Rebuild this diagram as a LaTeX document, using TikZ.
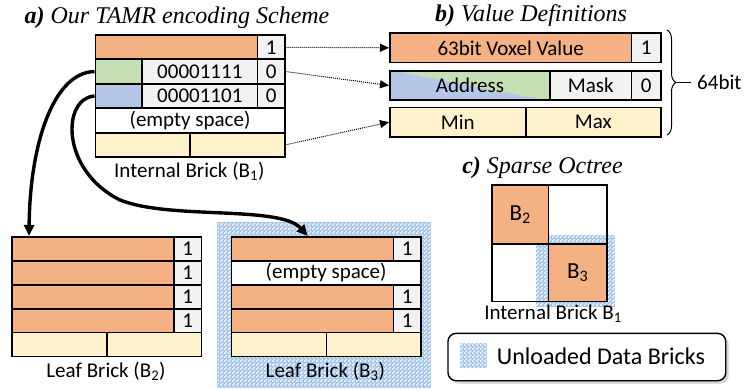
\documentclass[tikz,border=0pt]{standalone}
\usepackage{fontspec}
\setmainfont{Carlito}
\newfontfamily\titlefont{Liberation Serif}
\usetikzlibrary{patterns,shadows,decorations.pathreplacing,arrows.meta,calc}

\definecolor{cOrange}{RGB}{244,177,131}
\definecolor{cGreen}{RGB}{197,224,180}
\definecolor{cBlue}{RGB}{180,199,231}
\definecolor{cGray}{RGB}{242,242,242}
\definecolor{cYellow}{RGB}{255,242,204}
\definecolor{hatchbg}{RGB}{165,198,236}
\definecolor{hatchfg}{RGB}{245,249,254}

% fine checker used for unloaded bricks
\pgfdeclarepatternformonly{finechecker}{\pgfpointorigin}{\pgfqpoint{4pt}{4pt}}{\pgfqpoint{4pt}{4pt}}{%
  \pgfpathrectangle{\pgfpointorigin}{\pgfqpoint{2pt}{2pt}}%
  \pgfpathrectangle{\pgfqpoint{2pt}{2pt}}{\pgfqpoint{2pt}{2pt}}%
  \pgfusepath{fill}}

\tikzset{
  cell/.style={draw=black, line width=1.6pt, inner sep=0pt, anchor=north west,
    font=\fontsize{21}{23}\selectfont},
  lbl/.style={inner sep=0pt, font=\fontsize{21}{23}\selectfont},
  ttl/.style={inner sep=0pt, font=\titlefont\fontsize{24}{26}\selectfont},
  unloaded/.style={fill=hatchbg, postaction={pattern=finechecker, pattern color=hatchfg}},
  dotarrow/.style={densely dotted, line width=1pt, -{Triangle[length=9pt,width=8pt]}},
  fatarrow/.style={line width=3.4pt, -{Triangle[length=11pt,width=10pt]}},
}

% \cellat{name}{fill}{x0}{y0}{x1}{y1}{text}
\newcommand\cellat[7]{%
  \node[cell, fill=#2, minimum width={(#5)-(#3)}, minimum height={(#6)-(#4)}]
    (#1) at (#3,#4) {#7};}

\begin{document}
\begin{tikzpicture}[x=1pt, y=-1pt]
\useasboundingbox (0,0) rectangle (747,390);

% ---------- a) internal brick B1 ----------
\node[ttl] (ta) at (177,18) {\textbf{\textit{a)}} \textit{Our TAMR encoding Scheme}};
\cellat{i1v}{cOrange}{94.5}{34.5}{256.7}{58.5}{}
\cellat{i1f}{cGray}{256.7}{34.5}{284}{58.5}{1}
\cellat{i2a}{cGreen}{94.5}{58.5}{141.3}{83}{}
\cellat{i2m}{cGray}{141.3}{58.5}{256.7}{83}{00001111}
\cellat{i2f}{cGray}{256.7}{58.5}{284}{83}{0}
\cellat{i3a}{cBlue}{94.5}{83}{141.3}{107.5}{}
\cellat{i3m}{cGray}{141.3}{83}{256.7}{107.5}{00001101}
\cellat{i3f}{cGray}{256.7}{83}{284}{107.5}{0}
\cellat{i4}{white}{94.5}{107.5}{284}{132}{(empty space)}
\cellat{i5a}{cYellow}{94.5}{132}{189.3}{156}{}
\cellat{i5b}{cYellow}{189.3}{132}{284}{156}{}
\node[lbl] (ilbl) at (189.3,171) {Internal Brick (B\textsubscript{1})};

% ---------- leaf brick B2 ----------
\cellat{l1v}{cOrange}{11}{236}{173.3}{260}{}
\cellat{l1f}{cGray}{173.3}{236}{200.7}{260}{1}
\cellat{l2v}{cOrange}{11}{260}{173.3}{284}{}
\cellat{l2f}{cGray}{173.3}{260}{200.7}{284}{1}
\cellat{l3v}{cOrange}{11}{284}{173.3}{308}{}
\cellat{l3f}{cGray}{173.3}{284}{200.7}{308}{1}
\cellat{l4v}{cOrange}{11}{308}{173.3}{331.5}{}
\cellat{l4f}{cGray}{173.3}{308}{200.7}{331.5}{1}
\cellat{l5a}{cYellow}{11}{331.5}{106}{355.5}{}
\cellat{l5b}{cYellow}{106}{331.5}{200.7}{355.5}{}
\node[lbl] (llbl) at (106,371) {Leaf Brick (B\textsubscript{2})};

% ---------- leaf brick B3 (unloaded) ----------
\path[unloaded] (217.3,222.3) rectangle (430.7,388);
\cellat{m1v}{cOrange}{230.7}{236}{392.7}{260}{}
\cellat{m1f}{cGray}{392.7}{236}{420}{260}{1}
\cellat{m2}{white}{230.7}{260}{420}{284}{(empty space)}
\cellat{m3v}{cOrange}{230.7}{284}{392.7}{308}{}
\cellat{m3f}{cGray}{392.7}{284}{420}{308}{1}
\cellat{m4v}{cOrange}{230.7}{308}{392.7}{331.5}{}
\cellat{m4f}{cGray}{392.7}{308}{420}{331.5}{1}
\cellat{m5a}{cYellow}{230.7}{331.5}{325.7}{355.5}{}
\cellat{m5b}{cYellow}{325.7}{331.5}{420}{355.5}{}
\node[lbl] (mlbl) at (325.3,371) {Leaf Brick (B\textsubscript{3})};

% child pointers
\draw[fatarrow] (i2a.west) .. controls (55,72) and (30,140) .. ($(l1v.north west)+(18,0)$);
\draw[fatarrow] (i3a.west) .. controls (62,98) and (60,170) .. (120,200)
  .. controls (170,220) and (280,205) .. ($(m1v.north west)+(77,0)$);

% ---------- b) value definitions ----------
\node[ttl] (tb) at (531,16) {\textbf{\textit{b)}} \textit{Value Definitions}};
\cellat{v1}{cOrange}{389}{32.3}{630.7}{61.7}{63bit Voxel Value}
\cellat{v1f}{cGray}{630.7}{32.3}{660}{61.7}{1}
\cellat{v2a}{cBlue}{389}{70}{549.3}{99.3}{}
\fill[cGreen] (v2a.north west) -- (v2a.north east) -- (v2a.south east) -- cycle;
\node[cell, fill=none, minimum width=160.3, minimum height=29.3] (v2) at (389,70) {Address};
\cellat{v2m}{cGray}{549.3}{70}{630.7}{99.3}{Mask}
\cellat{v2f}{cGray}{630.7}{70}{660}{99.3}{0}
\cellat{v3a}{cYellow}{389}{106.7}{525}{136}{Min}
\cellat{v3b}{cYellow}{525}{106.7}{660}{136}{Max}

\draw[decorate, decoration={brace, amplitude=9pt}, line width=1pt]
  (667,30) -- coordinate[xshift=10pt] (btip) (667,135);
\node[lbl, anchor=west] (bits) at (697,82.5) {64bit};
\draw[line width=1pt] (btip) -- ($(bits.west)+(-6,0)$);

\draw[dotarrow] (i1f.east) -- (v1.west);
\draw[dotarrow] (i2f.east) -- (v2.west);
\draw[dotarrow] (i5b.east) -- (v3a.west);

% ---------- c) sparse octree ----------
\node[ttl] (tc) at (542.5,168) {\textbf{\textit{c)}} \textit{Sparse Octree}};
\path[unloaded] (535.7,235) rectangle (615,307.3);
\cellat{o1}{cOrange}{491}{184.3}{547.7}{243.3}{\fontsize{23}{25}\selectfont B\textsubscript{2}}
\cellat{o2}{none}{547.7}{184.3}{606}{243.3}{}
\cellat{o3}{none}{491}{243.3}{547.7}{300.7}{}
\cellat{o4}{cOrange}{547.7}{243.3}{606}{300.7}{\fontsize{23}{25}\selectfont B\textsubscript{3}}
\node[lbl] (olbl) at (553,314) {Internal Brick B\textsubscript{1}};

% legend
\node[draw=black, line width=1.4pt, fill=white, rounded corners=8pt, anchor=north west,
  minimum width=277.7, minimum height=47.3,
  drop shadow={shadow xshift=3pt, shadow yshift=-3pt, opacity=0.35}] (leg) at (447.3,332.7) {};
\path[unloaded] (460,342.7) rectangle (486.7,368.3);
\node[lbl, anchor=west, font=\fontsize{24}{26}\selectfont] (legtxt) at (496.7,356) {Unloaded Data Bricks};
\end{tikzpicture}
\end{document}
